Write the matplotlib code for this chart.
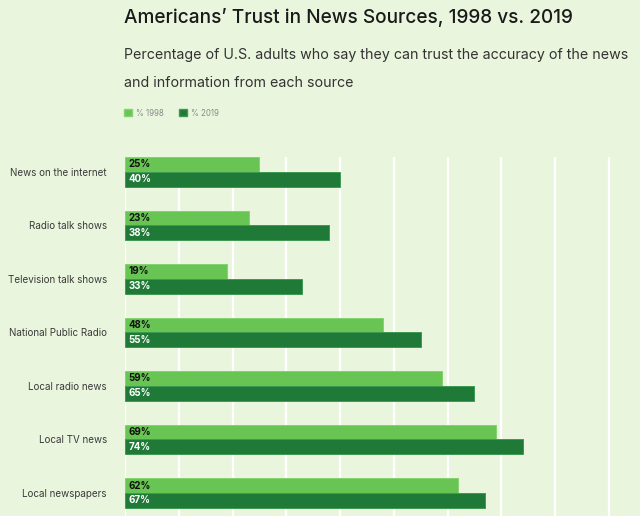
import numpy as np
import matplotlib
matplotlib.use("Agg")
import matplotlib.pyplot as plt
from matplotlib.patches import Patch

sources = ["News on the internet", "Radio talk shows", "Television talk shows",
           "National Public Radio", "Local radio news", "Local TV news", "Local newspapers"]
pct_1998 = [25, 23, 19, 48, 59, 69, 62]
pct_2019 = [40, 38, 33, 55, 65, 74, 67]

bg = "#EAF5DD"
c98 = "#68C553"
c19 = "#1E7A36"

plt.rcParams['font.family'] = ['Inter', 'DejaVu Sans']

fig = plt.figure(figsize=(6.4, 5.16), dpi=100, facecolor=bg)
ax = fig.add_axes([125 / 640, 0, 1 - 125 / 640, 1 - 157 / 516])
ax.set_facecolor(bg)

y = np.arange(len(sources))
h = 0.28
ax.barh(y - h / 2, pct_1998, height=h, color=c98, edgecolor="#86D172", linewidth=0.7)
ax.barh(y + h / 2, pct_2019, height=h, color=c19, edgecolor="#3E9A52", linewidth=0.7)

for i in range(len(sources)):
    ax.text(0.6, y[i] - h / 2, f"{pct_1998[i]}%", va="center", ha="left",
            fontsize=7, fontweight="bold", color="#111111")
    ax.text(0.6, y[i] + h / 2, f"{pct_2019[i]}%", va="center", ha="left",
            fontsize=7, fontweight="bold", color="white")

ax.set_xlim(0, 95.8)
ax.set_ylim(6.43, -0.28)
ax.set_xticks(np.arange(0, 100, 10))
ax.set_yticks(y)
ax.set_yticklabels(sources, fontsize=7.1, color="#3a3a3a")
ax.tick_params(axis="x", length=0, labelbottom=False)
ax.tick_params(axis="y", length=0, pad=13)
ax.grid(axis="x", color="white", linewidth=1.6)
ax.set_axisbelow(True)
for s in ax.spines.values():
    s.set_visible(False)

fig.text(124 / 640, 1 - 17 / 516, "Americans\u2019 Trust in News Sources, 1998 vs. 2019",
         fontsize=13.7, fontweight="medium", color="#1a1a1a", va="center", ha="left")
fig.text(124 / 640, 1 - 55 / 516,
         "Percentage of U.S. adults who say they can trust the accuracy of the news",
         fontsize=10.25, color="#333333", va="center", ha="left")
fig.text(124 / 640, 1 - 83 / 516, "and information from each source",
         fontsize=10.25, color="#333333", va="center", ha="left")

handles = [Patch(facecolor=c98, edgecolor="#86D172", label="% 1998"),
           Patch(facecolor=c19, edgecolor="#3E9A52", label="% 2019")]
leg = fig.legend(handles=handles, loc="center left", bbox_to_anchor=(117 / 640, 1 - 113 / 516),
                 ncol=2, frameon=False, fontsize=5.7, handlelength=1.0, handleheight=1.0,
                 handletextpad=0.45, columnspacing=2.0)
for t in leg.get_texts():
    t.set_color("#8a8a8a")

fig.savefig("out.png", dpi=100, facecolor=bg)
